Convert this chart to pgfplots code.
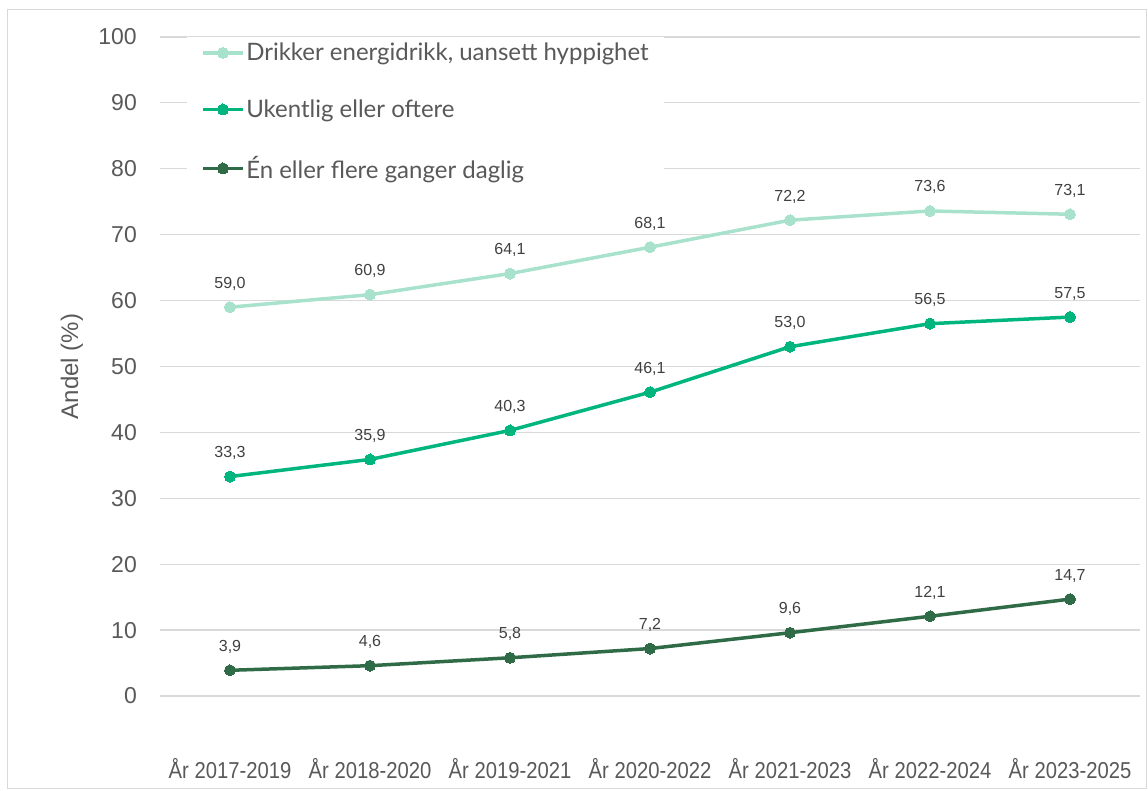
\documentclass[border=0pt]{standalone}
\usepackage{pgfplots}
\pgfplotsset{compat=1.18}
\usetikzlibrary{calc}
\usepackage{fontspec}
\setmainfont{Liberation Sans}
\newfontfamily\narrowfont[FakeStretch=0.88]{Liberation Sans}
\newfontfamily\legfont{Lato}
\definecolor{cLight}{HTML}{A8E2CC}
\definecolor{cMed}{HTML}{00B67E}
\definecolor{cDark}{HTML}{2F6B47}
\definecolor{tickgray}{HTML}{595959}
\definecolor{labgray}{HTML}{404040}
\definecolor{gridgray}{HTML}{D9D9D9}
\begin{document}
\begin{tikzpicture}
\begin{axis}[
  name=ax,
  scale only axis,
  width=980pt, height=659pt,
  xmin=-0.5, xmax=6.5, ymin=0, ymax=100,
  xtick={0,...,6},
  xticklabels={År 2017-2019,År 2018-2020,År 2019-2021,År 2020-2022,År 2021-2023,År 2022-2024,År 2023-2025},
  ytick={0,10,...,100},
  axis line style={draw=none},
  tick style={draw=none},
  ymajorgrids,
  grid style={color=gridgray, line width=1.2pt},
  /pgf/number format/assume math mode=true,
  yticklabel style={font=\fontsize{23}{26}\selectfont, text=tickgray, anchor=east, inner sep=0pt, xshift=-23pt},
  xticklabel style={font=\narrowfont\fontsize{23}{26}\selectfont, text=tickgray, anchor=north, inner sep=0pt, yshift=-62pt},
  ylabel={Andel (\%)},
  ylabel style={at={(axis description cs:-0.0898,0.5)}, anchor=center, font=\fontsize{24}{28}\selectfont, text=tickgray},
  nodes near coords={\pgfmathprintnumber[use comma,fixed,fixed zerofill,precision=1,assume math mode=true]{\pgfplotspointmeta}},
  every node near coord/.append style={font=\fontsize{16}{19}\selectfont, text=labgray, anchor=south, inner sep=0pt, yshift=17pt},
  every axis plot/.append style={line width=3.5pt, mark=*, mark size=5.5pt},
  legend image code/.code={\draw[mark repeat=2,mark phase=2] plot coordinates {(0pt,0pt) (20pt,0pt) (40pt,0pt)};},
  legend style={at={(axis description cs:0.0276,1.0)}, anchor=north west, fill=white, draw=none,
    font=\legfont\fontsize{24}{29}\selectfont, text=tickgray, row sep=33.5pt, inner xsep=14pt, inner ysep=4pt,
    cells={anchor=west}, nodes={inner xsep=1.5pt}},
  legend cell align=left,
]
\addplot[color=cLight, mark options={fill=cLight, draw=cLight, line width=0pt}] coordinates {(0,59.0) (1,60.9) (2,64.1) (3,68.1) (4,72.2) (5,73.6) (6,73.1)};
\addlegendentry{Drikker energidrikk, uansett hyppighet}
\addplot[color=cMed, mark options={fill=cMed, draw=cMed, line width=0pt}] coordinates {(0,33.3) (1,35.9) (2,40.3) (3,46.1) (4,53.0) (5,56.5) (6,57.5)};
\addlegendentry{Ukentlig eller oftere}
\addplot[color=cDark, mark options={fill=cDark, draw=cDark, line width=0pt}] coordinates {(0,3.9) (1,4.6) (2,5.8) (3,7.2) (4,9.6) (5,12.1) (6,14.7)};
\addlegendentry{Én eller flere ganger daglig}
\end{axis}
\draw[color=gridgray, line width=1pt] ($(ax.south west)+(-152pt,-93pt)$) rectangle ($(ax.north east)+(6pt,27pt)$);
\path ($(ax.south west)+(-160pt,-95pt)$) rectangle ($(ax.north east)+(8pt,37pt)$);
\end{tikzpicture}
\end{document}
